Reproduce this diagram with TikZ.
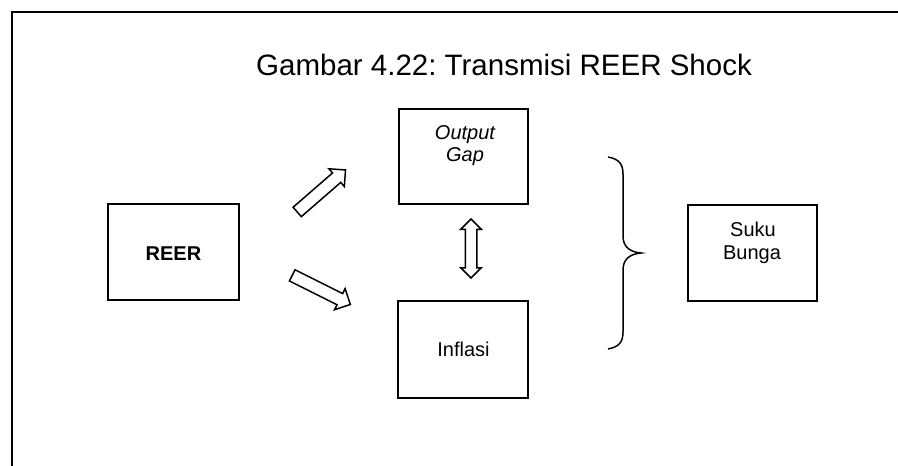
\documentclass[tikz,border=0pt]{standalone}
\usepackage{fontspec}
\setmainfont{Liberation Sans}
\frenchspacing
\usetikzlibrary{shapes.arrows}
\begin{document}
\begin{tikzpicture}[x=1pt,y=-1pt,
  box/.style={draw, line width=1.7pt, inner sep=0pt},
  lbl/.style={anchor=base, inner sep=0pt, font=\fontsize{20}{22}\selectfont},
  blockarrow/.style={draw, line width=1.5pt, single arrow, single arrow head extend=5.5pt, single arrow head indent=0pt, inner xsep=0pt, inner ysep=5.5pt, minimum width=0pt},
  dblarrow/.style={draw, line width=1.5pt, double arrow, double arrow head extend=4.5pt, double arrow head indent=0pt, inner xsep=0pt, inner ysep=5pt, minimum width=0pt},
]
\useasboundingbox (0,0) rectangle (898,466);
\fill[white] (0,0) rectangle (898,466);
\draw[line width=1.8pt] (12,466) -- (12,12) -- (898,12);
\node[anchor=base, inner sep=0pt, font=\fontsize{29.5}{35}\selectfont] (title) at (504,75) {Gambar 4.22: Transmisi REER Shock};

\node[box, minimum width=131pt, minimum height=96pt] (reer) at (173.5,252) {};
\node[box, minimum width=129pt, minimum height=95pt] (gap) at (463.5,156.5) {};
\node[box, minimum width=130pt, minimum height=97pt] (inf) at (463,349.5) {};
\node[box, minimum width=129pt, minimum height=96pt] (suku) at (752.5,253) {};

\node[lbl, font=\fontsize{20}{22}\selectfont\bfseries] (treer) at (173.5,260) {REER};
\node[lbl, font=\fontsize{20}{22}\selectfont\itshape] (tout) at (465,139) {Output};
\node[lbl, font=\fontsize{20}{22}\selectfont\itshape] (tgap) at (465,161) {Gap};
\node[lbl] (tinf) at (463.5,356) {Inflasi};
\node[lbl] (tsuku) at (753,236) {Suku};
\node[lbl] (tbunga) at (752,259) {Bunga};

\node[blockarrow, minimum height=64pt, rotate=41] (a1) at (319,193) {};
\node[blockarrow, minimum height=65pt, rotate=-26.6] (a2) at (318.5,288.5) {};
\node[dblarrow, minimum height=59pt, rotate=90] (a3) at (471,248.5) {};

\draw[line width=1.5pt] (608,157) .. controls (619,159) and (623,164) .. (623,174)
  -- (623,236) .. controls (623,247) and (630,252) .. (641,253)
  .. controls (630,254) and (623,259) .. (623,270)
  -- (623,332) .. controls (623,342) and (619,347) .. (608,349);
\end{tikzpicture}
\end{document}
